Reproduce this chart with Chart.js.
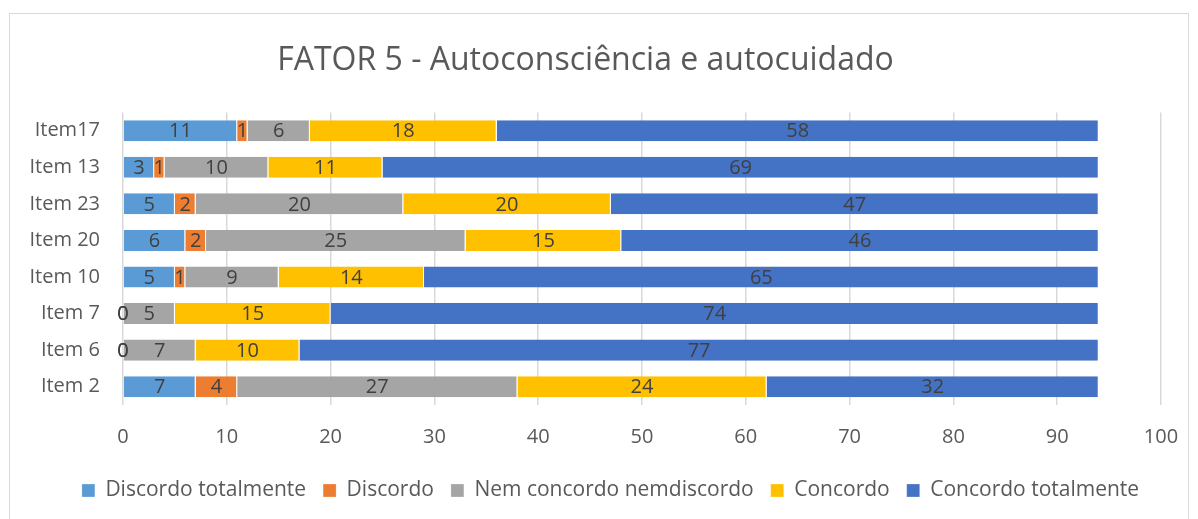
<!DOCTYPE html>
<html>
<head>
<meta charset="utf-8">
<script src="https://cdn.jsdelivr.net/npm/chart.js@4"></script>
<style>
  body { margin: 0; background: #fff; }
  #box { position: absolute; left: 9px; top: 13px; width: 1180px; height: 515px; border: 1px solid #d9d9d9; box-sizing: border-box; }
  canvas { display: block; }
</style>
</head>
<body>
<div id="box"><canvas id="fator5" width="1178" height="505"></canvas></div>
<script>
const items = ['Item17', 'Item 13', 'Item 23', 'Item 20', 'Item 10', 'Item 7', 'Item 6', 'Item 2'];
const discordoTotalmente = [11, 3, 5, 6, 5, 0, 0, 7];
const discordo = [1, 1, 2, 2, 1, 0, 0, 4];
const nemConcordo = [6, 10, 20, 25, 9, 5, 7, 27];
const concordo = [18, 11, 20, 15, 14, 15, 10, 24];
const concordoTotalmente = [58, 69, 47, 46, 65, 74, 77, 32];
const xTicks = [0, 10, 20, 30, 40, 50, 60, 70, 80, 90, 100];

const font = '"Open Sans", "Noto Sans", sans-serif';

function serie(label, data, color) {
    return {
        label: label,
        data: data,
        backgroundColor: color,
        borderColor: '#ffffff',
        borderWidth: { right: 1 },
        borderSkipped: false,
        barPercentage: 0.575,
        categoryPercentage: 1
    };
}

// valores no meio de cada segmento
const rotulos = {
    id: 'rotulos',
    afterLayout(chart) {
        // legenda centrada no quadro inteiro, nao so na area util
        chart.legend.left += 25;
        chart.legend.right += 25;
    },
    afterDatasetsDraw(chart) {
        const ctx = chart.ctx;
        ctx.save();
        ctx.font = '20px ' + font;
        ctx.fillStyle = '#404040';
        ctx.textAlign = 'center';
        ctx.textBaseline = 'middle';
        chart.data.datasets.forEach((ds, i) => {
            chart.getDatasetMeta(i).data.forEach((bar, j) => {
                ctx.fillText(ds.data[j], (bar.x + bar.base) / 2, bar.y + 1);
            });
        });
        ctx.restore();
    }
};

const ctx = document.getElementById('fator5').getContext('2d');
new Chart(ctx, {
    type: 'bar',
    data: {
        labels: items,
        datasets: [
            serie('Discordo totalmente', discordoTotalmente, '#5b9bd5'),
            serie('Discordo', discordo, '#ed7d31'),
            serie('Nem concordo nemdiscordo', nemConcordo, '#a5a5a5'),
            serie('Concordo', concordo, '#ffc000'),
            serie('Concordo totalmente', concordoTotalmente, '#4472c4')
        ]
    },
    options: {
        indexAxis: 'y',
        responsive: false,
        animation: false,
        layout: { padding: { left: 0, right: 27, top: 0, bottom: 8 } },
        scales: {
            x: {
                stacked: true,
                min: 0,
                max: 100,
                afterBuildTicks(scale) { scale.ticks = xTicks.map(v => ({ value: v })); },
                afterFit(scale) {
                    scale.height = 58;
                    scale.paddingLeft = 0;
                    scale.paddingRight = 0;
                },
                ticks: { color: '#595959', font: { family: font, size: 20 }, padding: 20 },
                grid: { color: '#d9d9d9', lineWidth: 1.5, drawTicks: false },
                border: { display: false }
            },
            y: {
                stacked: true,
                afterFit(scale) { scale.width = 113; },
                ticks: { color: '#595959', font: { family: font, size: 20 }, padding: 23 },
                grid: { display: false, drawTicks: false },
                border: { display: false }
            }
        },
        plugins: {
            title: {
                display: true,
                text: 'FATOR 5 - Autoconsciência e autocuidado',
                color: '#595959',
                font: { family: font, size: 32, weight: 'normal' },
                padding: { top: 28, bottom: 32 }
            },
            legend: {
                position: 'bottom',
                labels: {
                    color: '#595959',
                    font: { family: font, size: 21 },
                    boxWidth: 13,
                    boxHeight: 13,
                    padding: 17
                }
            },
            tooltip: { enabled: false }
        }
    },
    plugins: [rotulos]
});
</script>
</body>
</html>
